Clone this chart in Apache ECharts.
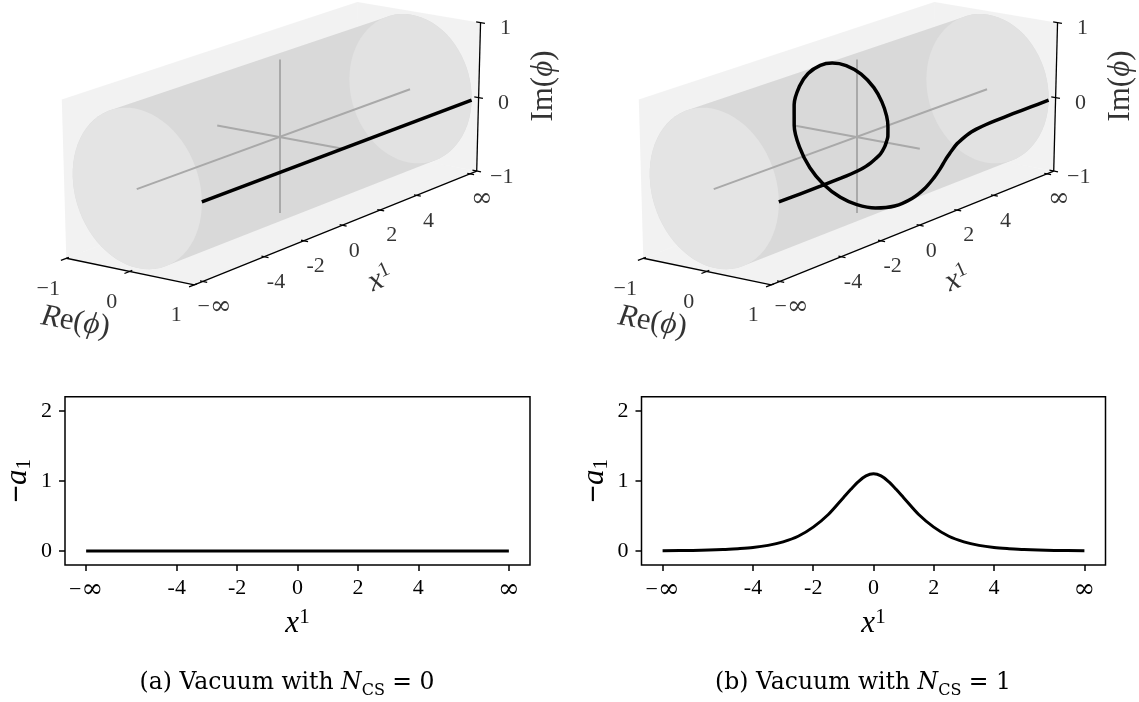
<!DOCTYPE html>
<html>
<head>
<meta charset="utf-8">
<script src="https://cdn.jsdelivr.net/npm/echarts@6/dist/echarts.min.js"></script>
<style>
  html, body { margin: 0; padding: 0; background: #fff; }
  #main { width: 1139px; height: 702px; }
</style>
</head>
<body>
<div id="main"></div>
<script>
// x1 = +-7 stands for +-infinity (compactified axis)
const x1Ticks = [-7, -4, -2, 0, 2, 4, 7];
const x1TickText = ['−∞', '-4', '-2', '0', '2', '4', '∞'];
const phiTicks = [-1, 0, 1];
const phiTickText = ['−1', '0', '1'];
const a1Ticks = [0, 1, 2];

// vacuum N_CS = 0 : phi = 1 everywhere
const vacX = [-7, 7];
const vacRe = [1, 1];
const vacIm = [0, 0];

// vacuum N_CS = 1 : phi winds once round the circle
const kinkX = [-7, -6, -5, -4, -3.5, -3, -2.75, -2.5, -2.25, -2, -1.75, -1.625, -1.5, -1.375, -1.25, -1.125, -1,
  -0.875, -0.75, -0.625, -0.5, -0.375, -0.25, -0.125, 0,
  0.125, 0.25, 0.375, 0.5, 0.625, 0.75, 0.875, 1, 1.125, 1.25, 1.375, 1.5, 1.625, 1.75, 2, 2.25, 2.5, 2.75, 3, 3.5, 4, 5, 6, 7];
const kinkRe = [1, 1, 1, 1, 1, 1, 0.999, 0.998, 0.996, 0.993, 0.982, 0.971, 0.955, 0.917, 0.858, 0.745, 0.582,
  0.344, 0.071, -0.188, -0.416, -0.651, -0.830, -0.958, -1,
  -0.958, -0.830, -0.651, -0.416, -0.188, 0.071, 0.344, 0.582, 0.745, 0.858, 0.917, 0.955, 0.971, 0.982, 0.993, 0.996, 0.998, 0.999, 1, 1, 1, 1, 1, 1];
const kinkIm = [0, 0, 0.001, 0.005, 0.010, 0.022, 0.035, 0.055, 0.085, 0.120, 0.189, 0.238, 0.296, 0.399, 0.514, 0.667, 0.813,
  0.939, 0.997, 0.982, 0.909, 0.759, 0.557, 0.287, 0,
  -0.287, -0.557, -0.759, -0.909, -0.982, -0.997, -0.939, -0.813, -0.667, -0.514, -0.399, -0.296, -0.238, -0.189, -0.120, -0.085, -0.055, -0.035, -0.022, -0.010, -0.005, -0.001, 0, 0];

// -a1 profiles
const a1VacX = [-7, 7];
const a1Vac = [0, 0];
const a1X = [-7, -6, -5, -4.5, -4, -3.5, -3, -2.5, -2, -1.5, -1, -0.75, -0.5, -0.25, 0, 0.25, 0.5, 0.75, 1, 1.5, 2, 2.5, 3, 3.5, 4, 4.5, 5, 6, 7];
const a1Kink = [0.003, 0.008, 0.02, 0.033, 0.05, 0.08, 0.13, 0.21, 0.34, 0.52, 0.76, 0.88, 0.99, 1.07, 1.10, 1.07, 0.99, 0.88, 0.76, 0.52, 0.34, 0.21, 0.13, 0.08, 0.05, 0.033, 0.02, 0.008, 0.003];

// 3d box limits
const x1Box = [-7.4, 7.4];
const cylX = [-7, 7];

// camera (screen px per unit, plus a little perspective)
const panelCenter = [[279.5, 137], [856.5, 137]];
const ex = [19.48, -7.12], er = [62.8, 11.7], ei = [0, -76.7];
const persp = [0.0064, -0.008, -0.01];

const SERIF = "Liberation Serif";
const CAPFONT = "DejaVu Serif";

function project(c, x1, re, im) {
  const s = 1 / (1 + persp[0] * x1 + persp[1] * re + persp[2] * im);
  return [c[0] + s * (ex[0] * x1 + er[0] * re + ei[0] * im),
          c[1] + s * (ex[1] * x1 + er[1] * re + ei[1] * im)];
}

function hull(pts) {
  pts = pts.slice().sort((a, b) => a[0] - b[0] || a[1] - b[1]);
  const cross = (o, a, b) => (a[0] - o[0]) * (b[1] - o[1]) - (a[1] - o[1]) * (b[0] - o[0]);
  const lo = [], up = [];
  for (const p of pts) {
    while (lo.length >= 2 && cross(lo[lo.length - 2], lo[lo.length - 1], p) <= 0) lo.pop();
    lo.push(p);
  }
  for (let i = pts.length - 1; i >= 0; i--) {
    const p = pts[i];
    while (up.length >= 2 && cross(up[up.length - 2], up[up.length - 1], p) <= 0) up.pop();
    up.push(p);
  }
  lo.pop(); up.pop();
  return lo.concat(up);
}

// wrap the infinity sign so it gets the bigger math-like glyph
const infText = s => s.replace('∞', '{inf|∞}');

const polys = [];
const greyLines = [];
const axisLines = [];
const labels = [];
const curves = [];

[[vacX, vacRe, vacIm], [kinkX, kinkRe, kinkIm]].forEach((d, p) => {
  const c = panelCenter[p];
  const P = (a, b, e) => project(c, a, b, e);
  const [x0, x1] = x1Box;
  // panes
  polys.push({ pts: [P(x0, -1, -1), P(x1, -1, -1), P(x1, -1, 1), P(x0, -1, 1)], fill: 'rgba(232,232,232,0.55)' });
  polys.push({ pts: [P(x0, -1, -1), P(x1, -1, -1), P(x1, 1, -1), P(x0, 1, -1)], fill: 'rgba(232,232,232,0.55)' });
  polys.push({ pts: [P(x1, -1, -1), P(x1, 1, -1), P(x1, 1, 1), P(x1, -1, 1)], fill: 'rgba(232,232,232,0.55)' });
  // cylinder |phi| = 1
  const capL = [], capR = [];
  for (let k = 0; k < 72; k++) {
    const t = k / 72 * 2 * Math.PI;
    capL.push(P(cylX[0], Math.cos(t), Math.sin(t)));
    capR.push(P(cylX[1], Math.cos(t), Math.sin(t)));
  }
  polys.push({ pts: hull(capL.concat(capR)), fill: '#d9d9d9' });
  polys.push({ pts: capR, fill: '#e2e2e2' });
  polys.push({ pts: capL, fill: '#e4e4e4' });
  // grey cross through the origin
  greyLines.push({ coords: [P(cylX[0], 0, 0), P(cylX[1], 0, 0)] });
  greyLines.push({ coords: [P(0, -1, 0), P(0, 1, 0)] });
  greyLines.push({ coords: [P(0, 0, -1), P(0, 0, 1)] });
  // axes
  axisLines.push({ coords: [P(x0, 1, -1), P(x1, 1, -1)] });
  axisLines.push({ coords: [P(x0, -1, -1), P(x0, 1, -1)] });
  axisLines.push({ coords: [P(x1, 1, -1), P(x1, 1, 1)] });
  x1Ticks.forEach((t, i) => {
    axisLines.push({ coords: [P(t, 0.96, -1), P(t, 1.07, -1)] });
    const q = P(t, 1, -1);
    labels.push({ value: [q[0] + 12, q[1] + 25.5], name: infText(x1TickText[i]) });
  });
  phiTicks.forEach((t, i) => {
    axisLines.push({ coords: [P(x0 + 0.12, t, -1), P(x0 - 0.25, t, -1)] });
    const q = P(x0, t, -1);
    labels.push({ value: [q[0] - 18, q[1] + 30.5], name: phiTickText[i] });
    axisLines.push({ coords: [P(x1, 0.93, t), P(x1, 1.07, t)] });
    const r = P(x1, 1, t);
    labels.push({ value: [r[0] + 25, r[1] + 6], name: phiTickText[i] });
  });
  labels.push({ value: [c[0] - 204, c[1] + 185], name: 're',
    label: { rotate: -10, formatter: '{i|R}{n|e(}{i|ϕ}{n|)}' } });
  labels.push({ value: [c[0] + 264, c[1] - 51], name: 'im',
    label: { rotate: 90, formatter: '{n|Im(}{i|ϕ}{n|)}' } });
  labels.push({ value: [c[0] + 101, c[1] + 142], name: 'x1',
    label: { rotate: 24, formatter: '{i|x}{sup|1}' } });
  curves.push(d[0].map((x, i) => P(x, d[1][i], d[2][i])));
});

const richText = {
  n: { fontFamily: SERIF, fontSize: 31, color: '#000' },
  i: { fontFamily: SERIF, fontSize: 31, fontStyle: 'italic', color: '#000' },
  sup: { fontFamily: SERIF, fontSize: 21, color: '#000', verticalAlign: 'top', lineHeight: 34 },
  inf: { fontFamily: 'DejaVu Serif', fontSize: 26, color: '#000' }
};

function bottomAxes(gi) {
  return {
    x: {
      gridIndex: gi, type: 'value', min: -7.7, max: 7.7,
      axisLine: { show: false, onZero: false }, splitLine: { show: false },
      axisTick: { show: true, customValues: x1Ticks, length: 6, lineStyle: { color: '#000', width: 1.5 } },
      axisLabel: {
        customValues: x1Ticks, margin: 12, color: '#000', fontFamily: SERIF, fontSize: 22,
        formatter: v => infText(x1TickText[x1Ticks.indexOf(v)]),
        rich: { inf: richText.inf }
      },
      name: '{i|x}{sup|1}', nameLocation: 'middle', nameGap: 42,
      nameTextStyle: { rich: richText }
    },
    y: {
      gridIndex: gi, type: 'value', min: -0.2, max: 2.2,
      axisLine: { show: false, onZero: false }, splitLine: { show: false },
      axisTick: { show: true, customValues: a1Ticks, length: 6, lineStyle: { color: '#000', width: 1.5 } },
      axisLabel: { customValues: a1Ticks, margin: 13, color: '#000', fontFamily: SERIF, fontSize: 22 },
      name: '{m|−}{i|a}{sub|1}', nameLocation: 'middle', nameGap: 30, nameRotate: 90,
      nameTextStyle: {
        rich: {
          m: { fontFamily: SERIF, fontSize: 31, fontWeight: 'bold', color: '#000' },
          i: richText.i,
          sub: { fontFamily: SERIF, fontSize: 21, color: '#000', verticalAlign: 'bottom', lineHeight: 34 }
        }
      }
    }
  };
}
const axA = bottomAxes(1), axB = bottomAxes(2);

function caption(text, cx) {
  return {
    text: text, left: cx, top: 662, textAlign: 'center',
    textStyle: {
      fontFamily: CAPFONT, fontSize: 23.5, fontWeight: 'normal', color: '#000',
      rich: {
        i: { fontFamily: CAPFONT, fontSize: 23.5, fontStyle: 'italic', color: '#000' },
        s: { fontFamily: CAPFONT, fontSize: 16, color: '#000', verticalAlign: 'bottom', lineHeight: 32 }
      }
    }
  };
}

const chart = echarts.init(document.getElementById('main'), null, { renderer: 'canvas' });
chart.setOption({
  animation: false,
  backgroundColor: '#fff',
  title: [
    caption('(a) Vacuum with {i|N}{s|CS} = 0', 282),
    caption('(b) Vacuum with {i|N}{s|CS} = 1', 858)
  ],
  grid: [
    { left: 0, top: 0, width: 1139, height: 702, show: false, outerBoundsMode: 'none' },
    { left: 65, top: 396.7, width: 465, height: 168.3, show: true, borderColor: '#000', borderWidth: 1.5, outerBoundsMode: 'none' },
    { left: 641.5, top: 396.7, width: 464, height: 168.3, show: true, borderColor: '#000', borderWidth: 1.5, outerBoundsMode: 'none' }
  ],
  xAxis: [
    { gridIndex: 0, type: 'value', min: 0, max: 1139, show: false },
    axA.x, axB.x
  ],
  yAxis: [
    { gridIndex: 0, type: 'value', min: 0, max: 702, inverse: true, show: false },
    axA.y, axB.y
  ],
  series: [
    {
      type: 'custom', coordinateSystem: 'cartesian2d', xAxisIndex: 0, yAxisIndex: 0, silent: true,
      data: polys.map((_, i) => [i, 0]),
      renderItem: (params, api) => {
        const poly = polys[params.dataIndex];
        return { type: 'polygon', shape: { points: poly.pts.map(pt => api.coord(pt)) },
                 style: { fill: poly.fill, stroke: null } };
      }
    },
    {
      type: 'lines', coordinateSystem: 'cartesian2d', xAxisIndex: 0, yAxisIndex: 0, silent: true,
      data: greyLines, lineStyle: { color: '#a9a9a9', width: 2, opacity: 1 }
    },
    ...curves.map(cv => ({
      type: 'line', xAxisIndex: 0, yAxisIndex: 0, data: cv, showSymbol: false, smooth: 0.35,
      lineStyle: { color: '#000', width: 3.5 }, silent: true
    })),
    {
      type: 'lines', coordinateSystem: 'cartesian2d', xAxisIndex: 0, yAxisIndex: 0, silent: true,
      data: axisLines, lineStyle: { color: '#000', width: 1.3, opacity: 1 }
    },
    {
      type: 'scatter', xAxisIndex: 0, yAxisIndex: 0, symbolSize: 1, silent: true,
      itemStyle: { color: 'rgba(0,0,0,0)' },
      data: labels,
      label: { show: true, position: 'inside', formatter: '{b}', color: '#000',
               fontFamily: SERIF, fontSize: 22, rich: richText }
    },
    {
      type: 'line', xAxisIndex: 1, yAxisIndex: 1, showSymbol: false, silent: true,
      data: a1VacX.map((x, i) => [x, a1Vac[i]]), lineStyle: { color: '#000', width: 3 }
    },
    {
      type: 'line', xAxisIndex: 2, yAxisIndex: 2, showSymbol: false, silent: true, smooth: 0.3,
      data: a1X.map((x, i) => [x, a1Kink[i]]), lineStyle: { color: '#000', width: 3 }
    }
  ]
});
</script>
</body>
</html>
